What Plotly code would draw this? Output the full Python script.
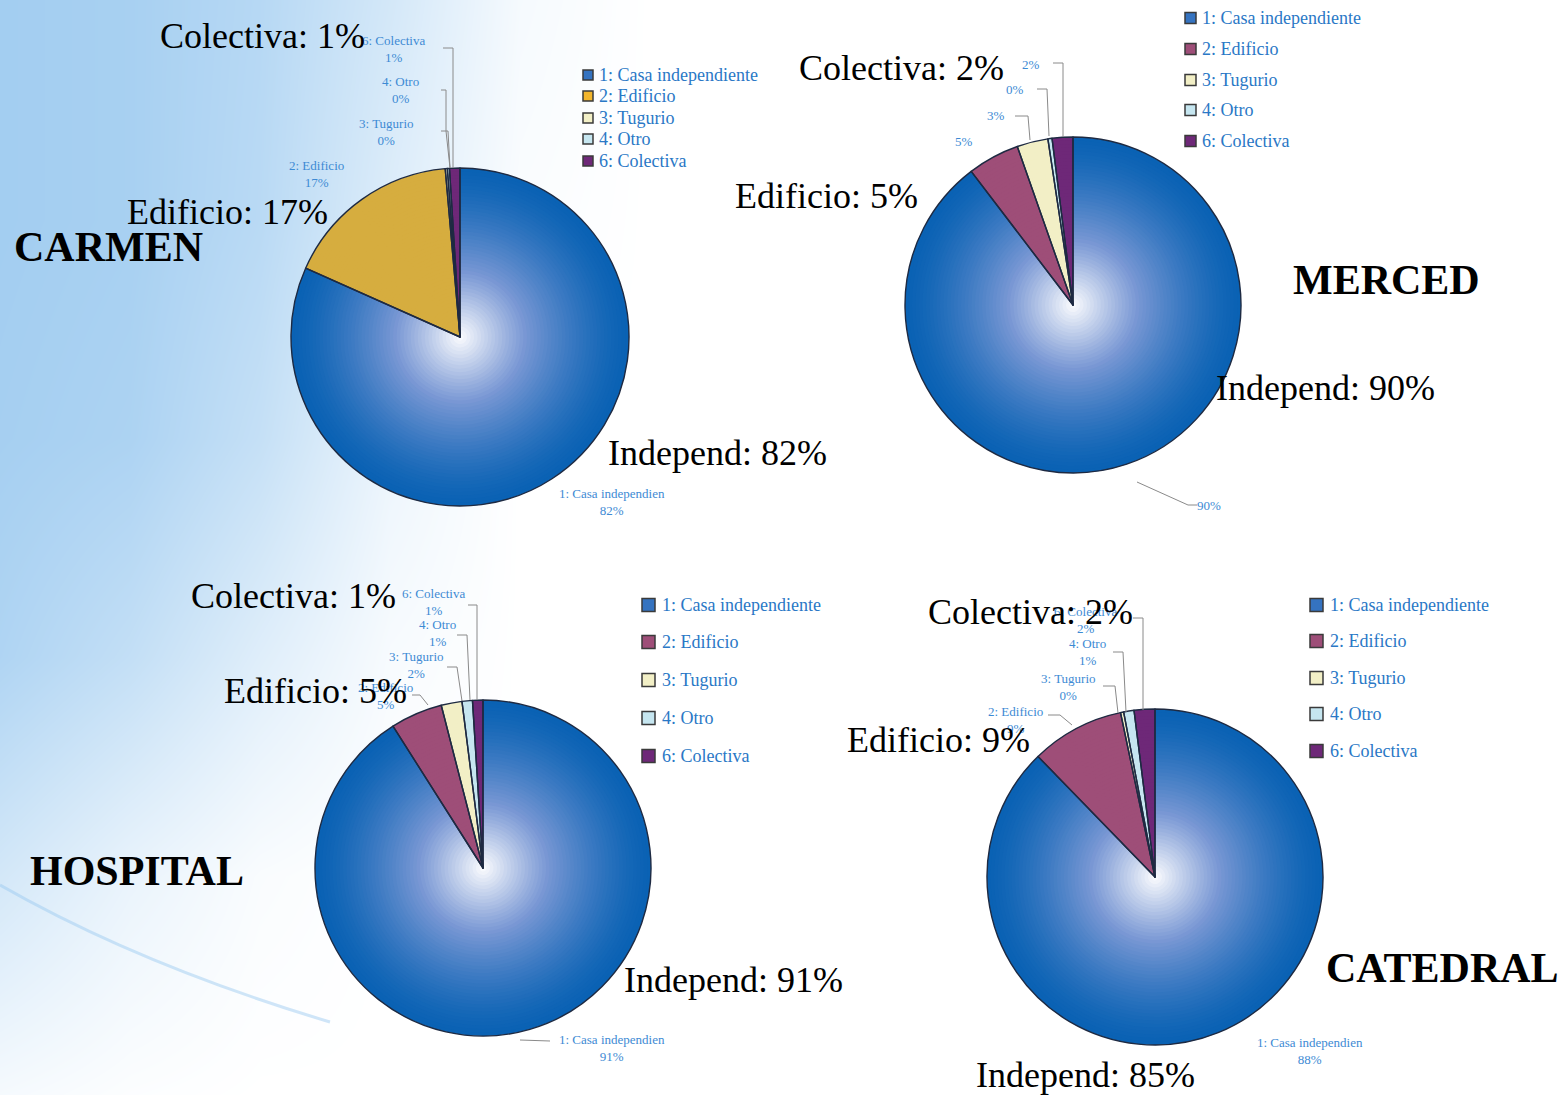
import plotly.graph_objects as go

W, H = 1568, 1095

# ---------------- data ----------------
categories = ["1: Casa independiente", "2: Edificio", "3: Tugurio", "4: Otro", "6: Colectiva"]
short_names = ["1: Casa independien", "2: Edificio", "3: Tugurio", "4: Otro", "6: Colectiva"]

carmen_values = [82, 17, 0.2, 0.2, 1]
merced_values = [90, 5, 3, 0.4, 2]
hospital_values = [91, 5, 2, 1, 1]
catedral_values = [88, 9, 0.3, 1, 2]

carmen_pct = ["82%", "17%", "0%", "0%", "1%"]
merced_pct = ["90%", "5%", "3%", "0%", "2%"]
hospital_pct = ["91%", "5%", "2%", "1%", "1%"]
catedral_pct = ["88%", "9%", "0%", "1%", "2%"]

big_names = ["Independ", "Edificio", "Colectiva"]
carmen_big = ["82%", "17%", "1%"]
merced_big = ["90%", "5%", "2%"]
hospital_big = ["91%", "5%", "1%"]
catedral_big = ["85%", "9%", "2%"]

titles = ["CARMEN", "MERCED", "HOSPITAL", "CATEDRAL"]

# decorative background tint grid (0 = white, 1 = light blue)
bg_x = [0, 130, 260, 390, 520, 650]
bg_y = [0, 219, 438, 657, 876, 1095]
bg_tint = [
    [0.95, 0.90, 0.75, 0.45, 0.10, 0.0],
    [0.95, 0.90, 0.72, 0.35, 0.05, 0.0],
    [0.92, 0.85, 0.60, 0.20, 0.00, 0.0],
    [0.82, 0.62, 0.33, 0.08, 0.00, 0.0],
    [0.45, 0.22, 0.06, 0.00, 0.00, 0.0],
    [0.10, 0.03, 0.00, 0.00, 0.00, 0.0],
]

# ---------------- styling / layout spec ----------------
MAUVE = "#9e4e78"
TUG = "#f2efc6"
OTRO = "#c6e6f0"
COLEC = "#6e2878"
SMALL_COLOR = "#3d8ad4"
LEG_COLOR = "#2a78c6"

specs = [
    dict(title=titles[0], values=carmen_values, pct=carmen_pct, big=carmen_big,
         cx=460, cy=337, r=169, edif="#d6ad3f", leg_edif="#f2b52c",
         title_xy=(108, 247), big_xy=[(717, 453), (227, 212), (262, 36)],
         small_full=True,
         small_xy=[(612, 502), (316, 174), (386, 132), (400, 90), (393, 49)],
         lines=["M 443 48 L 453 48 L 453 168",
                "M 441 90 L 446 90 L 446 131 L 450 168",
                "M 441 131 L 448 131 L 450 168"],
         leg=dict(x0=583, s=10, tx=597, rows=[75, 96, 118, 139, 161])),
    dict(title=titles[1], values=merced_values, pct=merced_pct, big=merced_big,
         cx=1073, cy=305, r=168, edif=MAUVE, leg_edif=MAUVE,
         title_xy=(1386, 280), big_xy=[(1325, 388), (826, 196), (901, 68)],
         small_full=False,
         small_xy=[(1209, 505), (964, 141), (996, 115), (1015, 89), (1031, 64)],
         lines=["M 1053 63 L 1063 63 L 1063 137",
                "M 1037 89 L 1047 89 L 1049 136",
                "M 1015 116 L 1028 116 L 1030 140",
                "M 1137 482 L 1188 505 L 1197 505"],
         leg=dict(x0=1185, s=11, tx=1200, rows=[18, 49, 80, 110, 141])),
    dict(title=titles[2], values=hospital_values, pct=hospital_pct, big=hospital_big,
         cx=483, cy=868, r=168, edif=MAUVE, leg_edif=MAUVE,
         title_xy=(137, 871), big_xy=[(733, 980), (315, 691), (293, 596)],
         small_full=True,
         small_xy=[(612, 1048), (385, 696), (416, 665), (437, 633), (433, 602)],
         lines=["M 468 605 L 477 605 L 477 700",
                "M 457 635 L 467 635 L 470 700",
                "M 447 667 L 457 667 L 462 701",
                "M 412 695 L 420 695 L 428 705",
                "M 520 1040 L 550 1041"],
         leg=dict(x0=642, s=13, tx=660, rows=[605, 642, 680, 718, 756])),
    dict(title=titles[3], values=catedral_values, pct=catedral_pct, big=catedral_big,
         cx=1155, cy=877, r=168, edif=MAUVE, leg_edif=MAUVE,
         title_xy=(1442, 968), big_xy=[(1085, 1075), (938, 740), (1030, 612)],
         small_full=True,
         small_xy=[(1310, 1051), (1015, 720), (1068, 687), (1087, 652), (1085, 620)],
         lines=["M 1133 618 L 1143 618 L 1143 710",
                "M 1113 652 L 1123 652 L 1126 712",
                "M 1103 686 L 1115 686 L 1118 713",
                "M 1048 715 L 1060 715 L 1072 725"],
         leg=dict(x0=1310, s=13, tx=1328, rows=[605, 641, 678, 714, 751])),
]


def hex2rgb(h):
    h = h.lstrip("#")
    return [int(h[i:i + 2], 16) for i in (0, 2, 4)]


def mix(c1, c2, t):
    a, b = hex2rgb(c1), hex2rgb(c2)
    return "rgb(%d,%d,%d)" % tuple(round(a[i] + (b[i] - a[i]) * t) for i in range(3))


def casa_color(f):
    L = (1 - f) ** 1.4
    if L < 0.5:
        return mix("#0a62b4", "#7a98d4", L / 0.5)
    return mix("#7a98d4", "#ffffff", (L - 0.5) / 0.5)


fig = go.Figure()

# background tint
fig.add_trace(go.Heatmap(
    x=bg_x, y=bg_y, z=bg_tint, zmin=0, zmax=1, zsmooth="best",
    colorscale=[[0, "#ffffff"], [1, "#9ecbf0"]], showscale=False, hoverinfo="skip"))

N_RINGS = 48
shapes = []
annotations = []

for sp in specs:
    cx, cy, r = sp["cx"], sp["cy"], sp["r"]
    other = [sp["edif"], TUG, OTRO, COLEC]
    for k in range(N_RINGS):
        f = 1 - k / N_RINGS
        rr = r * f
        fig.add_trace(go.Pie(
            labels=categories, values=sp["values"], sort=False, direction="clockwise",
            rotation=0, textinfo="none", hoverinfo="skip", showlegend=False,
            marker=dict(colors=[casa_color(f)] + other, line=dict(width=0)),
            domain=dict(x=[(cx - rr) / W, (cx + rr) / W],
                        y=[1 - (cy + rr) / H, 1 - (cy - rr) / H])))
    # outline
    fig.add_trace(go.Pie(
        labels=categories, values=sp["values"], sort=False, direction="clockwise",
        rotation=0, textinfo="none", hoverinfo="skip", showlegend=False,
        marker=dict(colors=["rgba(0,0,0,0)"] * 5, line=dict(width=1.4, color="#1e2a42")),
        domain=dict(x=[(cx - r) / W, (cx + r) / W], y=[1 - (cy + r) / H, 1 - (cy - r) / H])))

    # leader lines
    for p in sp["lines"]:
        shapes.append(dict(type="path", path=p, xref="x", yref="y", layer="above",
                           line=dict(color="#8a8a8a", width=1)))

    # small labels
    for i, (x, y) in enumerate(sp["small_xy"]):
        txt = f"{short_names[i]}<br>{sp['pct'][i]}" if sp["small_full"] else sp["pct"][i]
        annotations.append(dict(x=x, y=y, xref="x", yref="y", text=txt, showarrow=False,
                                xanchor="center", yanchor="middle", align="center",
                                font=dict(family="Liberation Serif", size=13, color=SMALL_COLOR)))

    # legend
    lg = sp["leg"]
    leg_colors = ["#3573c0", sp["leg_edif"], TUG, OTRO, COLEC]
    for i, y in enumerate(lg["rows"]):
        s = lg["s"]
        shapes.append(dict(type="rect", xref="x", yref="y", layer="above",
                           x0=lg["x0"], x1=lg["x0"] + s, y0=y - s / 2, y1=y + s / 2,
                           fillcolor=leg_colors[i], line=dict(color="#3a3a3a", width=1.5)))
        annotations.append(dict(x=lg["tx"], y=y, xref="x", yref="y", text=categories[i],
                                showarrow=False, xanchor="left", yanchor="middle",
                                font=dict(family="Liberation Serif", size=18, color=LEG_COLOR)))

    # big labels
    for name, val, (x, y) in zip(big_names, sp["big"], sp["big_xy"]):
        annotations.append(dict(x=x, y=y, xref="x", yref="y", text=f"{name}: {val}",
                                showarrow=False, xanchor="center", yanchor="middle",
                                font=dict(family="Liberation Serif", size=36, color="black")))
    # title
    tx, ty = sp["title_xy"]
    annotations.append(dict(x=tx, y=ty, xref="x", yref="y", text=f"<b>{sp['title']}</b>",
                            showarrow=False, xanchor="center", yanchor="middle",
                            font=dict(family="Liberation Serif", size=42, color="black")))

# decorative swoosh
shapes.insert(0, dict(type="path", path="M 0 885 Q 140 965 330 1022", xref="x", yref="y",
                      layer="above", line=dict(color="rgba(150,200,240,0.45)", width=3)))

fig.update_layout(
    width=W, height=H, autosize=False,
    margin=dict(l=0, r=0, t=0, b=0, pad=0),
    paper_bgcolor="white", plot_bgcolor="white",
    xaxis=dict(range=[0, W], visible=False, fixedrange=True),
    yaxis=dict(range=[H, 0], visible=False, fixedrange=True),
    shapes=shapes, annotations=annotations, showlegend=False,
)

fig.write_html("out.html", config={"displayModeBar": False},
               post_script="document.body.style.margin='0px';")
